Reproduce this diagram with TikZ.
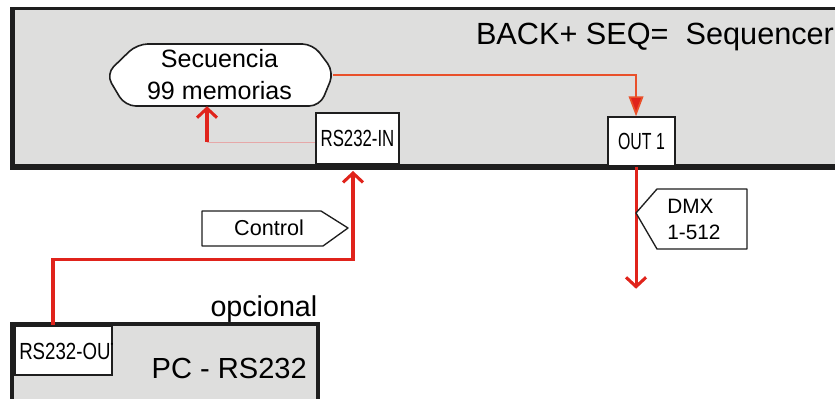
\documentclass[tikz,border=0pt]{standalone}
\usepackage{fontspec}
\setmainfont{Liberation Sans}
\usetikzlibrary{arrows.meta,calc}
\definecolor{panel}{HTML}{DEDEDD}
\definecolor{wire}{HTML}{E0231B}
\definecolor{wireo}{HTML}{E9502A}
\definecolor{thinwire}{HTML}{E6A8A8}
\definecolor{ink}{HTML}{1E1E1E}
\begin{document}
\begin{tikzpicture}[x=0.75pt,y=-0.75pt,
  port/.style={draw=ink, fill=white, line width=1.1pt, inner sep=0pt},
  redthick/.style={draw=wire, line width=2.3pt},
  vtip/.style={-{Straight Barb[length=7pt,width=15pt]}},
  tag/.style={draw=ink, fill=white, line width=1pt, line join=round},
  portfont/.style={font=\fontsize{17.5}{20}\selectfont}
]
\useasboundingbox (0,0) rectangle (835,399);
% sequencer panel
\fill[ink] (10,7) rectangle (845,170);
\fill[panel] (15,10) rectangle (845,164);
% PC panel
\fill[ink] (10,322) rectangle (320,410);
\fill[panel] (14,326) rectangle (316,410);

\node[anchor=base, font=\fontsize{23}{27}\selectfont] (title) at (655,45) {BACK+ SEQ=\ \ Sequencer};

% sequence memory
\draw[tag, line width=1.2pt, rounded corners=8pt] (137,44) -- (313,44) -- (334,72) -- (320,106) -- (125,106) -- (106,74) -- cycle;
\node[align=center, minimum width=170.25pt, minimum height=46.5pt, inner sep=0pt,
      font=\fontsize{18.8}{24}\selectfont] (seq) at (219.5,75) {Secuencia\\99 memorias};

% ports
\node[port, portfont, minimum width=62.25pt, minimum height=38.25pt] (rsin) at (357.5,138.5) {\scalebox{0.72}[1]{RS232-IN}};
\node[port, portfont, minimum width=50.25pt, minimum height=36.75pt] (out1) at (641.5,141.5) {\scalebox{0.68}[1]{OUT 1}};
\node[port, line width=0.8pt, minimum width=72.75pt, minimum height=36.75pt] (rsout) at (63.5,350.5) {};
\begin{scope}
  \clip (rsout.south west) rectangle (rsout.north east);
  \node[portfont, anchor=west, inner sep=0pt] (rsouttext) at (19,351) {\scalebox{0.8}[1]{RS232-OUT}};
\end{scope}

\node[anchor=base east, font=\fontsize{21.5}{25}\selectfont] (opc) at (322,316) {opcional};
\node[anchor=base west, font=\fontsize{21.8}{25}\selectfont] (pc) at (147,378) {PC - RS232};

% connectors
\draw[wireo, line width=1.3pt, -{Triangle[length=15pt,width=11pt,fill=wire]}] (seq.east) -| ([xshift=-4.1pt]out1.north);

\coordinate (tap) at (207,142);
\draw[thinwire, line width=0.6pt] (tap) -- (tap -| rsin.west);
\draw[redthick, vtip] (tap) -- (tap |- seq.south);

\coordinate (ctlEnd) at (353,171);
\draw[redthick, vtip] ([xshift=-7.9pt]rsout.north) -- ++(0,-66) -| (ctlEnd);

\draw[redthick, vtip] ([xshift=-4.1pt]out1.south) -- ++(0,122);

% labels
\draw[tag] (202,211) -- (321,211) -- (348,228) -- (323,246) -- (202,246) -- cycle;
\node[font=\fontsize{16.2}{19}\selectfont] (ctl) at (269,228) {Control};

\draw[tag] (636,213) -- (657,189) -- (747,189) -- (747,249) -- (657,249) -- cycle;
\node[anchor=west, align=left, inner sep=0pt, font=\fontsize{15.6}{19.5}\selectfont] (dmx) at (667,219) {DMX\\1-512};
\end{tikzpicture}
\end{document}
